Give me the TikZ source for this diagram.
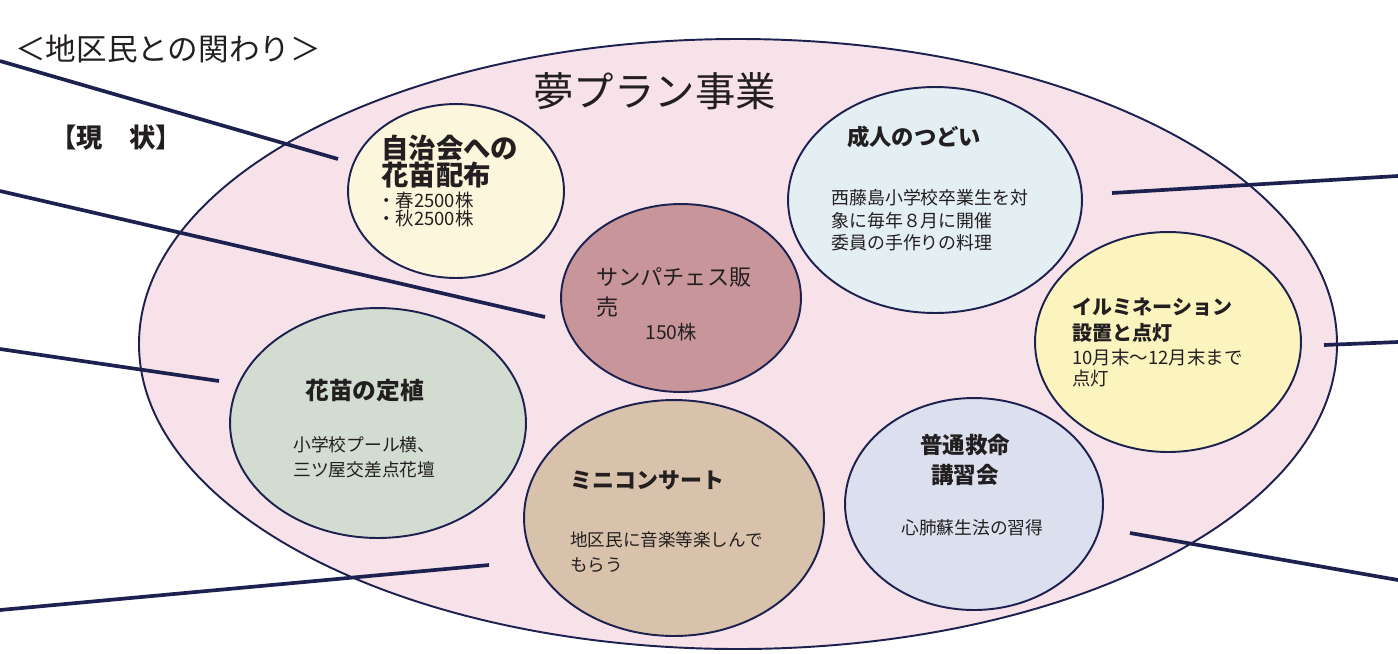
\documentclass[tikz,border=0pt]{standalone}
\usepackage{fontspec}
\setmainfont{Noto Sans CJK JP}
\usetikzlibrary{shapes.geometric}

\definecolor{navy}{HTML}{1C2150}
\definecolor{ink}{HTML}{231F20}
\definecolor{planpink}{HTML}{F8E2E9}
\definecolor{cream}{HTML}{FCF6DC}
\definecolor{mauve}{HTML}{C8969A}
\definecolor{paleblue}{HTML}{E4EFF4}
\definecolor{paleyellow}{HTML}{FBF4BE}
\definecolor{sage}{HTML}{D2DCD0}
\definecolor{tan}{HTML}{D9C2AC}
\definecolor{lavender}{HTML}{DCE0EE}

\tikzset{
  circ/.style={ellipse, draw=navy, line width=1.1pt, inner sep=0pt},
  conn/.style={draw=navy, line width=2.1pt},
  txt/.style={anchor=base west, inner sep=0pt, align=left, text=ink},
}
\newcommand{\fsz}[2]{\fontsize{#1}{#2}\selectfont}

\begin{document}
\begin{tikzpicture}[x=0.02cm, y=-0.02cm]
  \useasboundingbox (0,0) rectangle (1398,653);
  \draw[navy, line width=1.1pt, fill=planpink] (738,344) ellipse [x radius=599, y radius=305];

  \node[txt, font=\fsz{17.4pt}{20pt}] (head) at (15,60) {＜地区民との関わり＞};
  \node[txt, font=\fsz{15pt}{18pt}\bfseries] (now) at (50,147) {【現　状】};
  \node[txt, font=\fsz{23pt}{26pt}] (plan) at (533,106) {夢プラン事業};

  \coordinate (o1) at (0,61);     \coordinate (e1) at (338,159);
  \coordinate (o2) at (0,191);    \coordinate (e2) at (545,317);
  \coordinate (o3) at (0,349);    \coordinate (e3) at (219,381);
  \coordinate (o4) at (0,610);    \coordinate (e4) at (489,565);
  \coordinate (o5) at (1398,176); \coordinate (e5) at (1112,193);
  \coordinate (o6) at (1398,342); \coordinate (e6) at (1324,345);
  \coordinate (o7) at (1398,580); \coordinate (e7) at (1130,533);
  \draw[conn] (o1) -- (e1);
  \draw[conn] (o2) -- (e2);
  \draw[conn] (o3) -- (e3);
  \draw[conn] (o4) -- (e4);
  \draw[conn] (o5) -- (e5);
  \draw[conn] (o6) -- (e6);
  \draw[conn] (o7) -- (e7);

  \node[circ, fill=cream, minimum width=4.32cm, minimum height=3.48cm] (jichi) at (456,191) {};
  \node[circ, fill=mauve, minimum width=4.80cm, minimum height=3.76cm] (sanpa) at (681,298) {};
  \node[circ, fill=paleblue, minimum width=5.88cm, minimum height=4.52cm] (seijin) at (935,200) {};
  \node[circ, fill=paleyellow, minimum width=5.32cm, minimum height=4.40cm] (illumi) at (1168,342) {};
  \node[circ, fill=sage, minimum width=5.92cm, minimum height=4.60cm] (teishoku) at (378,423) {};
  \node[circ, fill=tan, minimum width=6.00cm, minimum height=4.72cm] (mini) at (674,518) {};
  \node[circ, fill=lavender, minimum width=5.16cm, minimum height=4.24cm] (kyumei) at (974,504) {};

  \node[txt, font=\fsz{15.6pt}{15.3pt}\bfseries] (jichi-t) at (381,185.5) {自治会への\\花苗配布};
  \node[txt, font=\fsz{10.5pt}{10.2pt}] (jichi-b) at (377,225) {・春2500株\\・秋2500株};

  \node[txt, font=\fsz{12.6pt}{17pt}] (sanpa-t) at (596,315.4) {サンパチェス販\\売};
  \node[txt, font=\fsz{11pt}{13pt}] (sanpa-b) at (645,339) {150株};

  \node[txt, font=\fsz{12.7pt}{15pt}\bfseries] (seijin-t) at (847,145.5) {成人のつどい};
  \node[txt, font=\fsz{10.2pt}{12.8pt}] (seijin-b) at (831,249.8) {西藤島小学校卒業生を対\\象に毎年８月に開催\\委員の手作りの料理};

  \node[txt, font=\fsz{11.4pt}{14.7pt}\bfseries] (illumi-t) at (1072,340.6) {イルミネーション\\設置と点灯};
  \node[txt, font=\fsz{10.5pt}{11.9pt}] (illumi-b) at (1072,385) {10月末〜12月末まで\\点灯};

  \node[txt, font=\fsz{13.5pt}{16pt}\bfseries] (teishoku-t) at (305,399) {花苗の定植};
  \node[txt, font=\fsz{10.1pt}{14.2pt}] (teishoku-b) at (293,476.8) {小学校プール横、\\三ツ屋交差点花壇};

  \node[txt, font=\fsz{12.5pt}{15pt}\bfseries] (mini-t) at (570,488.4) {ミニコンサート};
  \node[txt, font=\fsz{10pt}{14.2pt}] (mini-b) at (570,571.7) {地区民に音楽等楽しんで\\もらう};

  \node[txt, anchor=base, align=center, font=\fsz{12.8pt}{17pt}\bfseries] (kyumei-t) at (965,483.6) {普通救命\\講習会};
  \node[txt, font=\fsz{10.1pt}{12pt}] (kyumei-b) at (901,534.8) {心肺蘇生法の習得};
\end{tikzpicture}
\end{document}
